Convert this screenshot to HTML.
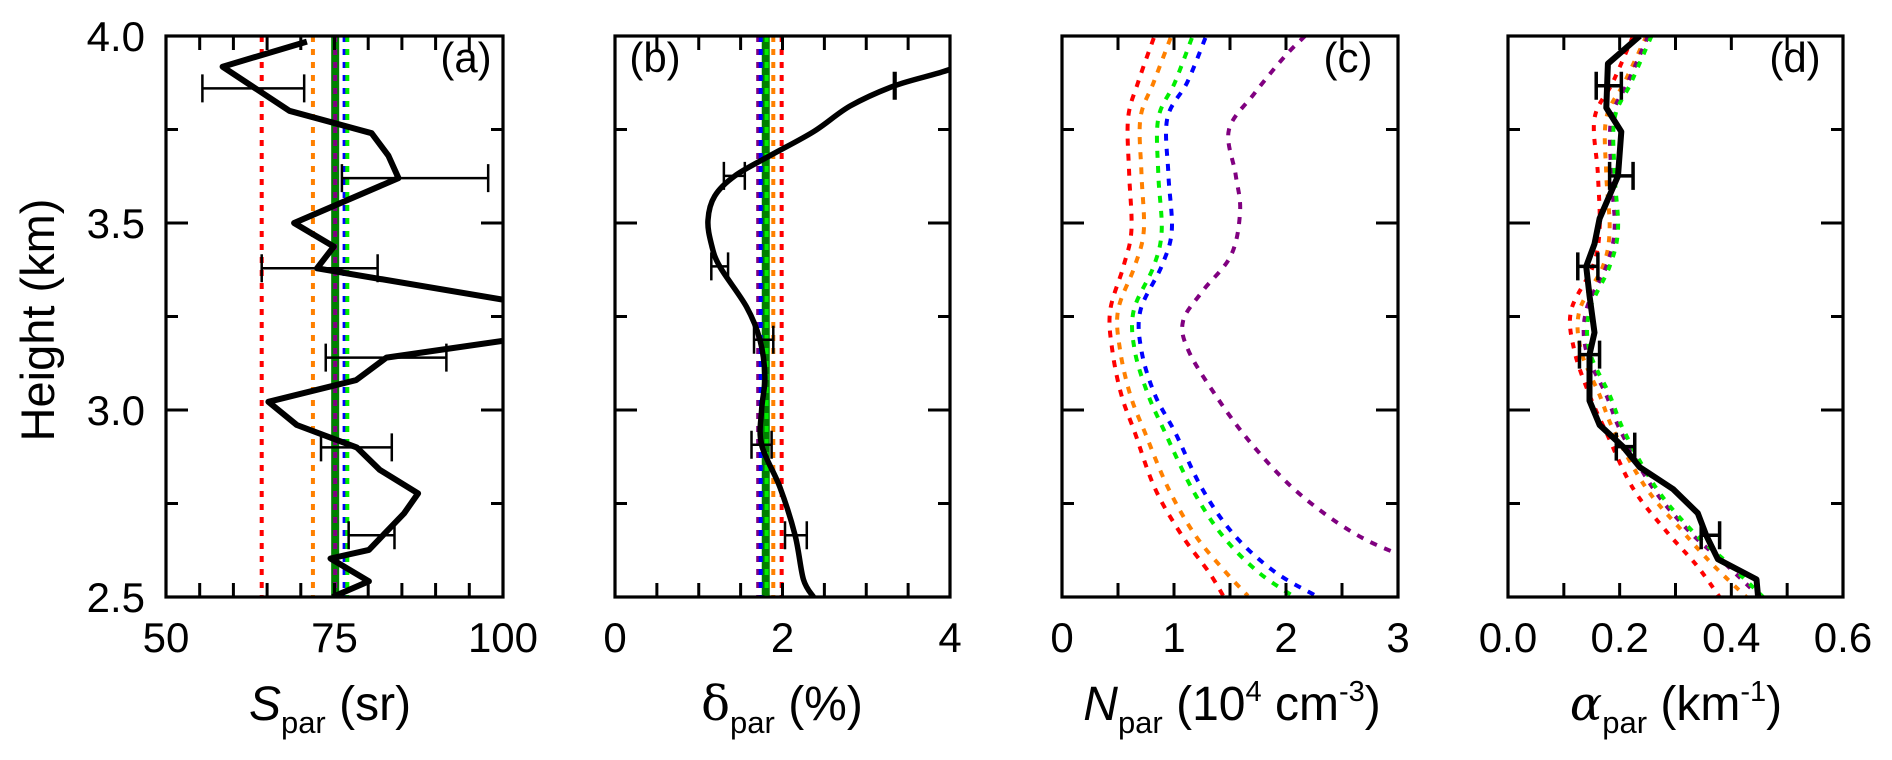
<!DOCTYPE html>
<html><head><meta charset="utf-8">
<style>
html,body{margin:0;padding:0;background:#fff;}
svg{display:block;font-family:"Liberation Sans",Arial,sans-serif;}
</style></head>
<body>
<svg id="fig" width="1892" height="760" viewBox="0 0 1892 760" xmlns="http://www.w3.org/2000/svg">
<defs>
<clipPath id="clipA"><rect x="166" y="36" width="337" height="561"/></clipPath>
<clipPath id="clipB"><rect x="615" y="36" width="335" height="561"/></clipPath>
<clipPath id="clipC"><rect x="1062" y="36" width="336" height="561"/></clipPath>
<clipPath id="clipD"><rect x="1508" y="36" width="335" height="561"/></clipPath>
</defs>
<text transform="translate(54,320) rotate(-90)" font-size="47" text-anchor="middle">Height (km)</text>
<g id="layer"></g>
<text x="330" y="720" font-size="48" text-anchor="middle"><tspan font-style="italic">S</tspan><tspan font-size="31" dy="13">par</tspan><tspan dy="-13"> (sr)</tspan></text>
<text x="782" y="720" font-size="48" text-anchor="middle"><tspan font-family="'DejaVu Serif',serif">δ</tspan><tspan font-size="31" dy="13">par</tspan><tspan dy="-13"> (%)</tspan></text>
<text x="1232" y="720" font-size="48" text-anchor="middle"><tspan font-style="italic">N</tspan><tspan font-size="31" dy="13">par</tspan><tspan dy="-13"> (10</tspan><tspan font-size="29" dy="-19">4</tspan><tspan dy="19"> cm</tspan><tspan font-size="29" dy="-19">-3</tspan><tspan dy="19">)</tspan></text>
<text x="1676" y="720" font-size="48" text-anchor="middle"><tspan font-family="'DejaVu Serif',serif" font-style="italic">α</tspan><tspan font-size="31" dy="13">par</tspan><tspan dy="-13"> (km</tspan><tspan font-size="29" dy="-19">-1</tspan><tspan dy="19">)</tspan></text>
</svg>
<script>
// ---- shared axis ----
const yMin = 2.5, yMax = 4.0;
const yTickLabels = ["2.5","3.0","3.5","4.0"];
// ---- panel (a) lidar ratio ----
const aHeights = [3.985,3.918,3.80,3.74,3.68,3.62,3.50,3.437,3.379,3.295,3.24,3.185,3.14,3.08,3.022,2.96,2.90,2.84,2.777,2.723,2.626,2.603,2.542,2.5];
const aValues  = [70.9,58.4,68.3,80.5,83.0,84.5,69.0,74.9,72.4,100,112,100,82.7,78.2,65.2,69.4,78.3,81.7,87.4,85.3,80.1,74.4,80.1,74.7];
const aErrH  = [3.86,3.62,3.379,3.14,2.90,2.665];
const aErrLo = [55.4,76.1,64.2,73.7,73.0,77.1];
const aErrHi = [70.5,97.8,81.4,91.6,83.5,83.9];
const aRefValues = [64.2,71.8,76.5,76.9,75.1];
const aRefNames = ["red","orange","blue","lime","purple"];
const aSolid = 75.1;
// ---- panel (b) depolarization ----
const bHeights = [3.95,3.911,3.867,3.813,3.744,3.68,3.626,3.572,3.508,3.444,3.384,3.276,3.188,3.089,3.0,2.907,2.793,2.665,2.547,2.5];
const bValues  = [4.3,4.0,3.34,2.81,2.37,1.85,1.43,1.19,1.11,1.15,1.25,1.57,1.73,1.79,1.75,1.75,1.97,2.15,2.25,2.37];
const bErrH  = [3.867,3.626,3.384,3.188,2.907,2.665];
const bErrLo = [3.33,1.30,1.15,1.66,1.63,2.03];
const bErrHi = [3.35,1.55,1.35,1.89,1.87,2.29];
const bRefValues = [1.71,1.74,1.81,1.89,1.99];
const bRefNames = ["purple","blue","lime","orange","red"];
const bSolid = 1.80;
// ---- panel (c) number concentration ----
const cHeights = [3.995,3.877,3.78,3.63,3.48,3.385,3.266,3.158,3.04,2.94,2.79,2.665,2.567,2.503];
const cRed    = [0.82,0.68,0.59,0.60,0.62,0.55,0.43,0.45,0.53,0.65,0.83,1.07,1.31,1.44];
const cOrange = [0.97,0.82,0.70,0.71,0.73,0.65,0.50,0.52,0.61,0.74,0.95,1.19,1.46,1.66];
const cGreen  = [1.16,1.01,0.86,0.86,0.89,0.82,0.64,0.65,0.77,0.92,1.16,1.43,1.75,2.06];
const cBlue   = [1.28,1.12,0.94,0.95,0.98,0.89,0.70,0.71,0.83,1.01,1.25,1.54,1.90,2.27];
const cPurpleHeights = [4.0,3.946,3.847,3.749,3.63,3.532,3.414,3.316,3.237,3.158,3.04,2.921,2.803,2.715,2.655,2.616];
const cPurple = [2.17,1.99,1.72,1.49,1.55,1.59,1.51,1.25,1.08,1.13,1.37,1.66,2.02,2.38,2.70,2.99];
// ---- panel (d) extinction ----
const dHeights = [4.0,3.926,3.808,3.744,3.626,3.512,3.444,3.384,3.306,3.207,3.148,3.025,2.96,2.902,2.847,2.788,2.724,2.665,2.601,2.547,2.5];
const dValues  = [0.236,0.179,0.176,0.203,0.197,0.164,0.155,0.140,0.146,0.155,0.146,0.146,0.164,0.206,0.236,0.296,0.340,0.355,0.376,0.445,0.448];
const dErrH  = [3.867,3.626,3.384,3.148,2.902,2.665];
const dErrLo = [0.158,0.182,0.125,0.128,0.194,0.346];
const dErrHi = [0.203,0.224,0.161,0.164,0.227,0.379];
const dModelHeights = [4.0,3.877,3.78,3.63,3.483,3.384,3.266,3.158,3.04,2.94,2.79,2.675,2.586,2.5];
const dGreen  = [0.257,0.221,0.191,0.191,0.197,0.182,0.146,0.146,0.182,0.209,0.266,0.331,0.397,0.457];
const dPurple = [0.251,0.215,0.185,0.185,0.191,0.176,0.140,0.140,0.176,0.203,0.260,0.325,0.391,0.451];
const dOrange = [0.248,0.209,0.176,0.176,0.182,0.170,0.128,0.131,0.164,0.191,0.248,0.313,0.367,0.427];
const dRed    = [0.224,0.188,0.155,0.161,0.164,0.152,0.113,0.119,0.146,0.176,0.224,0.284,0.337,0.379];

const COLORS = {red:"#ff0000",orange:"#ff8000",blue:"#0000ff",lime:"#00ee00",purple:"#800080",dark:"#008000"};
const NS = "http://www.w3.org/2000/svg";
const layer = document.getElementById("layer");
const TOP = 36, BOT = 597;
function yScale(h){ return BOT - (h - yMin)/(yMax - yMin)*(BOT-TOP); }
function mk(tag, attrs, parent){
  const e = document.createElementNS(NS, tag);
  for (const k in attrs) e.setAttribute(k, attrs[k]);
  (parent||layer).appendChild(e);
  return e;
}
function splinePath(pts){
  let d = "M"+pts[0][0].toFixed(1)+","+pts[0][1].toFixed(1);
  for (let i=0;i<pts.length-1;i++){
    const p0=pts[Math.max(0,i-1)], p1=pts[i], p2=pts[i+1], p3=pts[Math.min(pts.length-1,i+2)];
    const c1=[p1[0]+(p2[0]-p0[0])/6, p1[1]+(p2[1]-p0[1])/6];
    const c2=[p2[0]-(p3[0]-p1[0])/6, p2[1]-(p3[1]-p1[1])/6];
    d += " C"+c1[0].toFixed(1)+","+c1[1].toFixed(1)+" "+c2[0].toFixed(1)+","+c2[1].toFixed(1)+" "+p2[0].toFixed(1)+","+p2[1].toFixed(1);
  }
  return d;
}
function linePath(pts){ return pts.map((p,i)=>(i?"L":"M")+p[0].toFixed(1)+","+p[1].toFixed(1)).join(" "); }

function panel(key, x0, x1, xmin, xmax, minorStep, xTickVals, xTickLabels, clip, showY){
  const xs = v => x0 + (v - xmin)/(xmax - xmin)*(x1 - x0);
  const g = mk("g", {});
  
  
  const plot = mk("g", {"clip-path":"url(#"+clip+")"}, g);
  
  
  const nMinor = Math.round((xmax-xmin)/minorStep);
  for (let i=1;i<nMinor;i++){
    const x = xs(xmin + i*minorStep);
    const t1 = mk("line",{x1:x,x2:x,y1:BOT,y2:BOT-14,stroke:"#000","stroke-width":3},g);
    
    
    const t2 = mk("line",{x1:x,x2:x,y1:TOP,y2:TOP+14,stroke:"#000","stroke-width":3},g);
    
    
  }
  for (let i=1;i<6;i++){
    const h = yMin + i*0.25, y = yScale(h), L = (i%2===0)?22:12;
    const t1 = mk("line",{x1:x0,x2:x0+L,y1:y,y2:y,stroke:"#000","stroke-width":3},g);
    
    
    const t2 = mk("line",{x1:x1,x2:x1-L,y1:y,y2:y,stroke:"#000","stroke-width":3},g);
    
    
  }
  xTickVals.forEach((v,i)=>{
    const t = mk("text",{x:xs(v),y:652,"font-size":42,"text-anchor":"middle"},g);
    t.textContent = xTickLabels[i];
    
    
  });
  if (showY){
    yTickLabels.forEach(lbl=>{
      const t = mk("text",{x:145,y:yScale(parseFloat(lbl))+15,"font-size":42,"text-anchor":"end"},g);
      t.textContent = lbl;
      
      
    });
  }
  return {g, plot, xs, x0, x1};
}
function frame(P, key){
  const r = mk("rect",{x:P.x0,y:TOP,width:P.x1-P.x0,height:BOT-TOP,fill:"none",stroke:"#000","stroke-width":3.2},P.g);
  
  
}
function vline(P, v, color, dashed, name){
  const x = P.xs(v);
  const l = mk("line",{x1:x,x2:x,y1:TOP,y2:BOT,stroke:color,"stroke-width":dashed?4:8,"stroke-dasharray":dashed?"6 7":"none"},P.plot);
  
  
}
function curve(P, hs, vs, color, dashed, smooth, name, width){
  const pts = hs.map((h,i)=>[P.xs(vs[i]), yScale(h)]);
  const p = mk("path",{d: smooth?splinePath(pts):linePath(pts), fill:"none", stroke:color, "stroke-width":width||(dashed?4:5.5), "stroke-dasharray":dashed?dashed:"none","stroke-linejoin":"round"},P.plot);
  
  
}
function errbars(P, hs, lo, hi, key, thick){
  hs.forEach((h,i)=>{
    const y = yScale(h), xa = P.xs(lo[i]), xb = P.xs(hi[i]);
    const e = mk("path",{d:"M"+xa+","+y+" L"+xb+","+y+" M"+xa+","+(y-14)+" L"+xa+","+(y+14)+" M"+xb+","+(y-14)+" L"+xb+","+(y+14),stroke:"#000","stroke-width":thick||2.5,fill:"none"},P.plot);
    
    
  });
}
function label(P, txt, x){
  const t = mk("text",{x:x,y:72,"font-size":42,"text-anchor":"middle"},P.g);
  t.textContent = txt;
  
  
}

// (a)
const A = panel("a",166,503,50,100,5,[50,75,100],["50","75","100"],"clipA",true);
vline(A, aSolid, COLORS.dark, false, "reference-line-solid");
aRefValues.forEach((v,i)=>vline(A, v, COLORS[aRefNames[i]], "5 7", "reference-line-"+aRefNames[i]));
curve(A, aHeights, aValues, "#000", null, false, "lidar-ratio-profile", 6);
errbars(A, aErrH, aErrLo, aErrHi, "a", 2.5);
frame(A,"a"); label(A,"(a)",466);

// (b)
const B = panel("b",615,950,0,4,0.5,[0,2,4],["0","2","4"],"clipB",false);
vline(B, bSolid, COLORS.dark, false, "reference-line-solid");
bRefValues.forEach((v,i)=>vline(B, v, COLORS[bRefNames[i]], "5 7", "reference-line-"+bRefNames[i]));
curve(B, bHeights, bValues, "#000", null, true, "depolarization-profile", 5.5);
errbars(B, bErrH, bErrLo, bErrHi, "b", 2.5);
frame(B,"b"); label(B,"(b)",655);

// (c)
const C = panel("c",1062,1398,0,3,0.5,[0,1,2,3],["0","1","2","3"],"clipC",false);
curve(C, cHeights, cRed, COLORS.red, "7 8", true, "number-conc-red");
curve(C, cHeights, cOrange, COLORS.orange, "7 8", true, "number-conc-orange");
curve(C, cHeights, cGreen, COLORS.lime, "7 8", true, "number-conc-green");
curve(C, cHeights, cBlue, COLORS.blue, "7 8", true, "number-conc-blue");
curve(C, cPurpleHeights, cPurple, COLORS.purple, "7 8", true, "number-conc-purple");
frame(C,"c"); label(C,"(c)",1348);

// (d)
const D = panel("d",1508,1843,0,0.6,0.1,[0,0.2,0.4,0.6],["0.0","0.2","0.4","0.6"],"clipD",false);
curve(D, dModelHeights, dRed, COLORS.red, "6 8", true, "extinction-red");
curve(D, dModelHeights, dOrange, COLORS.orange, "6 8", true, "extinction-orange");
curve(D, dModelHeights, dPurple, COLORS.purple, "6 8", true, "extinction-purple");
curve(D, dModelHeights, dGreen, COLORS.lime, "6 8", true, "extinction-green");
curve(D, dHeights, dValues, "#000", null, false, "extinction-profile", 6);
errbars(D, dErrH, dErrLo, dErrHi, "d", 3.5);
frame(D,"d"); label(D,"(d)",1795);
</script>
</body></html>
